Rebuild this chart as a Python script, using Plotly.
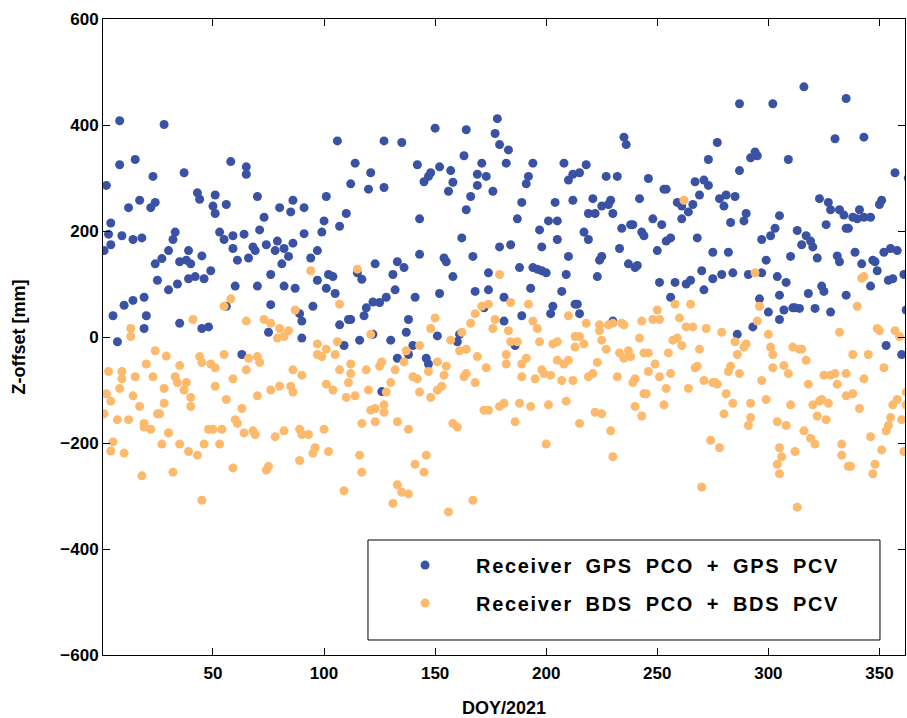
import plotly.graph_objects as go

# Receiver GPS PCO + GPS PCV: day of year and Z-offset [mm]
gps_doy = [
    8, 28, 8, 15, 23, 2, 12, 17, 22, 24, 4, 3, 9, 14, 18, 4, 1, 30, 24, 27, 25, 30, 10, 14, 19, 5, 20, 19, 7,
    58, 37, 43, 44, 51, 50, 51, 56, 33, 32, 53, 55, 59, 59, 39, 35, 38, 40, 45, 49, 46, 39, 42, 34, 60, 56, 35, 45, 48,
    65, 65, 70, 80, 86, 85, 91, 73, 64, 71, 61, 66, 68, 69, 74, 79, 78, 82, 86, 84, 81, 91, 76, 70, 82, 87, 76, 89, 90, 75, 90, 63,
    106, 114, 121, 112, 120, 101, 110, 100, 107, 99, 97, 94, 102, 104, 97, 101, 105, 115, 117, 122, 119, 118, 95, 111, 112, 107, 109, 116,
    150, 127, 135, 142, 148, 147, 145, 152, 127, 143, 143, 123, 133, 136, 131, 132, 128, 125, 141, 152, 138, 137, 130, 122, 140, 138, 133, 146, 147, 151, 126,
    178, 164, 177, 179, 183, 163, 157, 158, 156, 171, 169, 173, 169, 176, 166, 182, 164, 162, 179, 154, 155, 167, 158, 174, 168, 174, 172, 181, 181, 161, 160,
    194, 208, 192, 191, 210, 212, 189, 204, 212, 187, 201, 205, 197, 205, 184, 198, 210, 188, 194, 196, 198, 200, 209, 193, 207, 203, 202, 213, 189, 186,
    235, 236, 218, 215, 227, 232, 221, 229, 225, 228, 219, 222, 230, 242, 217, 219, 234, 238, 239, 243, 244, 233, 225, 224, 223, 237, 240, 241, 214, 215, 230,
    273, 246, 253, 254, 267, 271, 273, 269, 266, 259, 261, 264, 261, 248, 252, 254, 256, 250, 268, 275, 270, 275, 271, 251, 258, 263, 265, 256,
    287, 302, 277, 292, 294, 295, 287, 278, 281, 285, 280, 283, 289, 290, 305, 303, 301, 297, 299, 282, 279, 284, 291, 297, 304, 296, 300, 305, 305, 293, 286,
    316, 335, 330, 309, 323, 327, 328, 332, 334, 326, 313, 317, 319, 320, 315, 335, 331, 332, 310, 322, 308, 318, 324, 325, 335, 311, 312, 307, 314, 321, 328,
    343, 357, 363, 350, 351, 336, 338, 341, 340, 343, 346, 339, 342, 347, 348, 349, 352, 355, 358, 361, 354, 356, 346, 362, 353, 360,
]
gps_z = [
    408, 401, 325, 335, 303, 286, 244, 258, 244, 254, 215, 194, 191, 184, 187, 174, 163, 163, 138, 148, 107, 89, 60, 69, 75, 40, 40, 16, -9,
    331, 310, 272, 260, 268, 247, 233, 250, 198, 184, 198, 184, 191, 167, 163, 142, 145, 138, 153, 125, 110, 110, 114, 100, 96, 58, 26, 16, 19,
    321, 307, 265, 244, 258, 236, 244, 226, 194, 202, 145, 149, 170, 163, 174, 181, 163, 167, 177, 152, 138, 195, 118, 96, 96, 92, 61, 44, 30, 9, -2, -33,
    370, 328, 310, 289, 279, 265, 233, 219, 209, 198, 163, 149, 118, 114, 107, 92, 82, 121, 109, 66, 55, 40, 58, 33, 33, 23, -16, -6,
    394, 370, 367, 325, 310, 303, 293, 321, 282, 223, 156, 138, 142, 131, 118, 89, 75, 65, 75, 82, 33, 9, -6, 5, -16, -33, -40, -40, -51, 2, -103,
    412, 391, 384, 363, 353, 342, 314, 292, 275, 328, 307, 303, 286, 275, 265, 328, 240, 187, 170, 149, 142, 152, 114, 121, 86, 89, 55, 75, 30, 5, -9,
    328, 328, 303, 289, 296, 307, 254, 254, 258, 223, 219, 219, 202, 184, 174, 170, 152, 131, 131, 128, 125, 121, 118, 92, 86, 58, 44, 62, 40, -16,
    377, 363, 325, 310, 303, 303, 261, 258, 247, 250, 233, 233, 233, 261, 198, 184, 205, 212, 212, 198, 191, 167, 152, 145, 114, 138, 131, 135, 62, 44, 30,
    335, 299, 279, 279, 293, 296, 286, 268, 250, 254, 247, 236, 223, 223, 212, 181, 187, 163, 187, 160, 125, 110, 89, 103, 103, 100, 107, 75,
    440, 440, 367, 338, 349, 342, 314, 261, 268, 265, 247, 216, 219, 233, 229, 205, 191, 184, 145, 160, 118, 121, 118, 121, 114, 72, 47, 79, 33, 19, 5,
    472, 450, 374, 335, 261, 254, 240, 240, 230, 212, 201, 191, 181, 170, 174, 205, 153, 142, 152, 149, 103, 82, 96, 86, 79, 55, 55, 51, 54, 54, 47,
    377, 310, 300, 250, 258, 205, 226, 240, 223, 226, 226, 160, 138, 145, 142, 125, 160, 167, 163, 118, 107, 110, 96, 51, -16, -33,
]

# Receiver BDS PCO + BDS PCV: day of year and Z-offset [mm]
bds_doy = [
    13, 13, 24, 29, 20, 3, 9, 9, 15, 23, 8, 2, 14, 28, 4, 17, 28, 1, 7, 12, 25, 26, 19, 19, 22, 30, 5, 27, 4, 10, 18,
    58, 55, 41, 35, 44, 45, 49, 51, 55, 33, 34, 38, 37, 40, 40, 51, 59, 56, 30, 48, 50, 54, 35, 39, 43, 46, 53, 32, 45, 59, 60,
    87, 65, 73, 76, 80, 84, 79, 82, 66, 70, 71, 65, 86, 90, 76, 70, 80, 85, 86, 63, 61, 64, 68, 69, 78, 82, 89, 90, 75, 74, 89,
    94, 115, 107, 97, 101, 106, 97, 99, 105, 121, 112, 107, 112, 119, 111, 101, 104, 110, 114, 120, 121, 117, 93, 100, 96, 95, 102, 116, 117, 109,
    150, 148, 143, 137, 136, 126, 125, 132, 151, 147, 140, 142, 130, 128, 143, 148, 151, 127, 123, 127, 123, 133, 138, 146, 141, 145, 133, 135, 138, 131,
    179, 171, 174, 168, 166, 177, 176, 183, 162, 157, 161, 164, 169, 182, 155, 173, 182, 154, 164, 163, 168, 153, 172, 174, 179, 181, 158, 160, 167, 156,
    184, 192, 210, 194, 196, 184, 187, 197, 203, 205, 213, 213, 191, 189, 205, 210, 208, 198, 199, 202, 189, 195, 207, 212, 188, 193, 201, 209, 186, 200,
    218, 230, 235, 234, 243, 215, 224, 228, 225, 224, 217, 227, 242, 233, 237, 235, 238, 223, 244, 221, 219, 232, 240, 239, 244, 240, 243, 222, 225, 215, 229, 230,
    262, 265, 258, 250, 260, 248, 251, 263, 266, 272, 257, 259, 261, 269, 246, 255, 249, 246, 251, 256, 267, 268, 271, 275, 254, 264, 245, 253, 274, 270,
    294, 296, 295, 279, 285, 290, 289, 300, 301, 302, 286, 302, 283, 282, 287, 276, 277, 297, 281, 284, 292, 299, 280, 292, 291, 304, 278, 305, 304,
    332, 311, 314, 315, 317, 307, 309, 325, 328, 330, 335, 331, 318, 335, 310, 320, 323, 324, 327, 322, 326, 308, 316, 319, 321, 333, 333, 312, 306, 305, 336, 313,
    342, 343, 340, 349, 350, 357, 359, 345, 338, 352, 343, 338, 341, 358, 356, 362, 362, 360, 355, 354, 353, 346, 337, 351, 361, 348, 347,
]
bds_z = [
    16, 1, -26, -36, -51, -65, -65, -79, -75, -75, -97, -107, -111, -97, -121, -131, -125, -145, -156, -156, -145, -145, -163, -170, -174, -181, -198, -202, -215, -219, -262,
    72, 58, 33, -54, -37, -48, -51, -58, -33, -75, -86, -86, -100, -114, -131, -93, -79, -118, -181, -174, -174, -174, -202, -216, -223, -202, -202, -255, -308, -247, -156,
    51, 30, 33, 26, 16, 12, -2, 1, -40, -37, -48, -62, -62, -72, -100, -111, -93, -93, -104, -135, -163, -181, -177, -184, -188, -177, -174, -184, -244, -251, -233,
    125, 128, 62, -13, -23, -9, -33, -37, -33, 5, -51, -62, -69, -62, -86, -89, -100, -114, -111, -100, -138, -163, -184, -174, -209, -219, -216, -223, -255, -290,
    36, 16, -16, -26, -47, -47, -55, -62, -47, -65, -75, -79, -86, -104, -104, -114, -100, -128, -135, -142, -160, -160, -174, -223, -240, -255, -279, -293, -296, -314,
    118, 58, 62, 44, 26, 33, 16, 12, 9, -6, -26, -23, -37, -33, -55, -58, -51, -72, -69, -75, -86, -93, -138, -138, -131, -125, -163, -170, -308, -330,
    65, 62, 40, 30, 16, -9, -9, -9, -13, -9, -19, 1, -40, -51, -44, -44, -51, -62, -69, -72, -75, -79, -82, -82, -125, -131, -128, -121, -160, -202,
    26, 26, 23, 26, 30, 1, 23, 23, -6, 12, -13, -23, -2, -30, -26, -40, -37, -48, -30, -69, -75, -75, -79, -86, -107, -131, -149, -142, -145, -163, -177, -226,
    258, 62, 62, 51, 36, 33, 33, 19, 19, 16, -6, -2, -16, -23, -30, -30, -51, -65, -75, -69, -58, -55, -82, -86, -97, -97, -107, -128, -195, -283,
    121, 58, 30, 9, -9, -13, -19, 5, -19, -33, -33, -58, -55, -65, -69, -86, -89, -82, -107, -125, -125, -118, -145, -152, -167, -160, -209, -209, -240,
    9, -19, -23, -23, -44, -54, -69, -72, -72, -69, -69, -89, -89, -111, -128, -128, -121, -118, -125, -149, -156, -167, -177, -191, -202, -202, -223, -216, -226, -258, -244, -321,
    111, 114, 58, 16, 12, 12, 1, -33, -33, -58, -79, -107, -135, -118, -128, -104, -128, -156, -152, -167, -177, -188, -244, -213, -216, -240, -258,
]

series_names = ["Receiver GPS PCO + GPS PCV", "Receiver BDS PCO + BDS PCV"]
x_ticks = [50, 100, 150, 200, 250, 300, 350]
y_ticks = [-600, -400, -200, 0, 200, 400, 600]

BLUE = "#3A52A3"
ORANGE = "#FDB96C"
FONT = "Liberation Sans, Arial, sans-serif"


def legend_label(name):
    # loosely tracked legend text: hair spaces between letters, wider word gaps
    words = ["\u200a".join(w) for w in name.split(" ")]
    return "\u00a0\u200a\u00a0\u200a".join(words)


fig = go.Figure()
fig.add_trace(go.Scatter(
    x=gps_doy, y=gps_z, mode="markers", name=legend_label(series_names[0]),
    legendgroup="gps",
    marker=dict(color=BLUE, size=9, line=dict(width=0)),
))
fig.add_trace(go.Scatter(
    x=bds_doy, y=bds_z, mode="markers", name=legend_label(series_names[1]),
    legendgroup="bds",
    marker=dict(color=ORANGE, size=9, line=dict(width=0)),
))

axis_common = dict(
    showline=True, linecolor="black", linewidth=1, mirror="ticks",
    ticks="inside", ticklen=7, tickcolor="black", tickwidth=1,
    showgrid=False, zeroline=False,
    tickfont=dict(family=FONT, size=17, color="black", weight="bold"),
)

# legend frame (white box covering the points beneath it)
fig.add_shape(
    type="rect", xref="paper", yref="paper",
    x0=0.3304, x1=0.9688, y0=0.0236, y1=0.1808,
    fillcolor="white", line=dict(color="black", width=1), layer="above",
)

fig.update_layout(
    width=907, height=718,
    margin=dict(l=103, r=2, t=19, b=63),
    paper_bgcolor="white", plot_bgcolor="white",
    font=dict(family=FONT, color="black"),
    showlegend=True,
    legend=dict(
        x=0.338, y=0.172, xanchor="left", yanchor="top",
        bgcolor="rgba(0,0,0,0)", borderwidth=0,
        font=dict(family=FONT, size=20, color="black", weight="bold"),
        itemwidth=92, tracegroupgap=9,
    ),
)
fig.update_xaxes(
    range=[0.5, 361.5], tickvals=x_ticks,
    title=dict(text="DOY/2021", font=dict(family=FONT, size=18, color="black", weight="bold"), standoff=20),
    ticklabelstandoff=3,
    **axis_common,
)
fig.update_yaxes(
    range=[-600, 600], tickvals=y_ticks,
    title=dict(text="Z-offset [mm]", font=dict(family=FONT, size=18, color="black", weight="bold"), standoff=30),
    **axis_common,
)

fig.write_html("out.html")
